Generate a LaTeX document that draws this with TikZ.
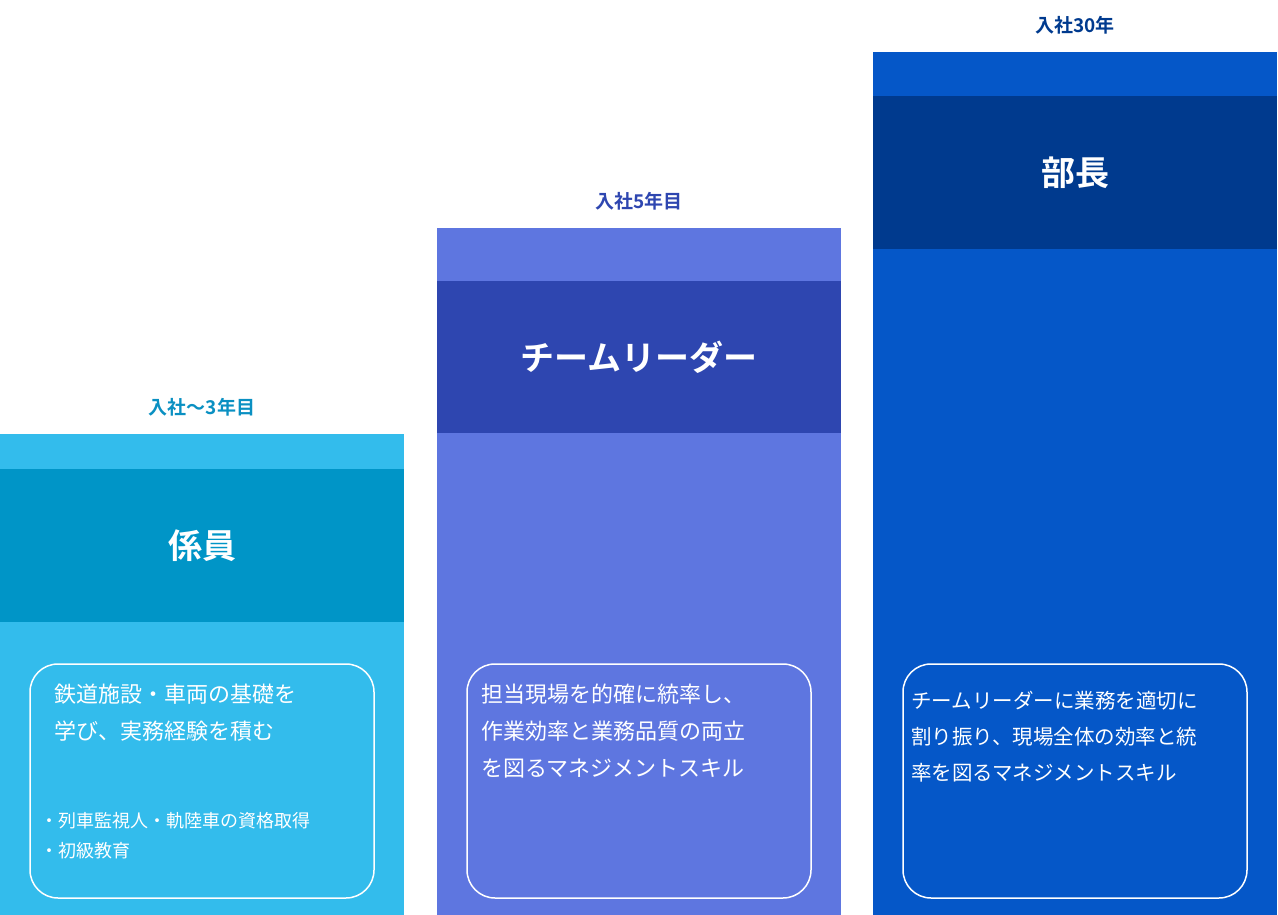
\documentclass[tikz,border=0pt]{standalone}
\usepackage{fontspec}
\setmainfont{Noto Sans CJK JP}
\newfontfamily\jpbold{Noto Sans CJK JP Bold}
\usetikzlibrary{positioning}
\definecolor{c1band}{HTML}{33BCEC}
\definecolor{c1head}{HTML}{0095C7}
\definecolor{c1lab}{HTML}{0A90C2}
\definecolor{c2band}{HTML}{5E76E0}
\definecolor{c2head}{HTML}{2E46B0}
\definecolor{c3band}{HTML}{0557C8}
\definecolor{c3head}{HTML}{003A8E}
\tikzset{
  yearlabel/.style={font=\jpbold\fontsize{19}{22}\selectfont},
  titletext/.style={font=\jpbold\fontsize{34}{40}\selectfont,text=white},
  detailbox/.style={draw=white,line width=1.5pt,rounded corners=28pt},
  bodytext/.style={font=\fontsize{22}{37}\selectfont,text=white,align=left,anchor=north west,inner sep=0pt},
}
\begin{document}
\begin{tikzpicture}[x=1pt,y=-1pt]
\useasboundingbox (0,0) rectangle (1278,915);
% columns: left/top of band/bottom of band/bottom of header
\foreach \x/\t/\b/\h/\band/\head/\n in {0/434/469/622/c1band/c1head/a,437/228/281/433/c2band/c2head/b,873/52/96/249/c3band/c3head/c} {
  \fill[\band] (\x,\t) rectangle (\x+404,915);
  \fill[\head] (\x,\b) rectangle (\x+404,\h);
  \coordinate (top\n) at (\x+202,\t);
  \coordinate (head\n) at (\x+202,{(\b+\h)/2});
  \draw[detailbox] (\x+30,664) rectangle (\x+374,898);
}
% year labels
\node[yearlabel,text=c1lab,above=14pt of topa] (yeara) {入社～3年目};
\node[yearlabel,text=c2head,above=14pt of topb] (yearb) {入社5年目};
\node[yearlabel,text=c3head,above=14pt of topc] (yearc) {入社30年};
% titles
\node[titletext] (titlea) at (heada) {係員};
\node[titletext] (titleb) at (headb) {チームリーダー};
\node[titletext] (titlec) at (headc) {部長};
% details
\node[bodytext] (texta) at (54,684) {鉄道施設・車両の基礎を\\学び、実務経験を積む};
\node[bodytext,font=\fontsize{18}{30}\selectfont] (bulleta) at (40,812) {・列車監視人・軌陸車の資格取得\\・初級教育};
\node[bodytext] (textb) at (481,684) {担当現場を的確に統率し、\\作業効率と業務品質の両立\\を図るマネジメントスキル};
\node[bodytext,font=\fontsize{20.5}{36}\selectfont] (textc) at (911,691) {チームリーダーに業務を適切に\\割り振り、現場全体の効率と統\\率を図るマネジメントスキル};
\end{tikzpicture}
\end{document}
